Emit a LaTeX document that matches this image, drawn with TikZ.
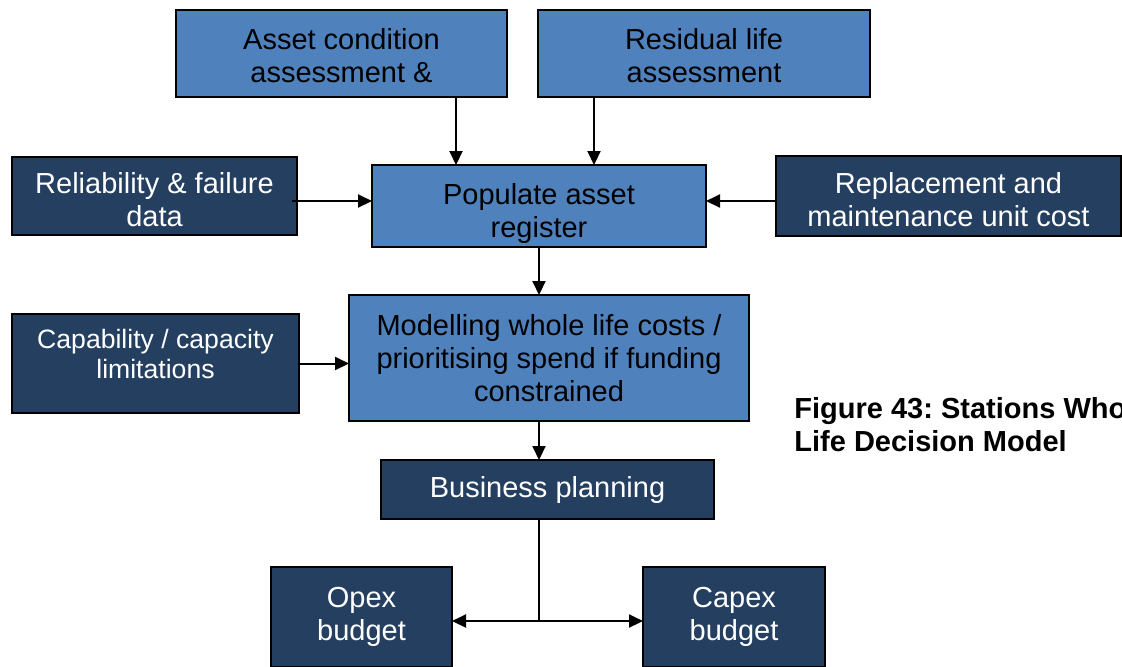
\documentclass[tikz,border=0pt]{standalone}
\usepackage{fontspec}
\setmainfont{Liberation Sans}
\frenchspacing
\usetikzlibrary{arrows.meta, positioning}
\definecolor{wlblue}{RGB}{79,129,189}
\definecolor{wlnavy}{RGB}{36,63,96}
\newcommand{\boxfont}{\fontsize{14.5pt}{16.5pt}\selectfont}
\newcommand{\smallboxfont}{\fontsize{13.3pt}{15pt}\selectfont}

\begin{document}
\begin{tikzpicture}[
  lightbox/.style={rectangle, draw=black, line width=0.75pt, fill=wlblue, text=black, align=center, font=\boxfont, inner sep=0pt, outer sep=0pt},
  darkbox/.style={lightbox, fill=wlnavy, text=white},
  arr/.style={-{Triangle[length=7pt, width=6.5pt]}, line width=1pt},
  figcap/.style={align=left, font=\boxfont\bfseries, inner sep=0pt}
]
\useasboundingbox (0,0) rectangle (561pt,-333pt);
\clip (0,0) rectangle (561pt,-333pt);
% central column
\node[lightbox, minimum width=167pt, minimum height=41pt] (pop) at (269.5pt,-103pt) {\rule{0pt}{18pt}Populate asset\\register};
\node[lightbox, minimum width=200pt, minimum height=63pt, below=24pt of pop, xshift=5pt] (model) {Modelling whole life costs /\\prioritising spend if funding\\constrained};
\node[darkbox, minimum width=166.5pt, minimum height=29.5pt, below=19.5pt of model, xshift=-0.75pt] (bus) {Business planning};
\node[darkbox, minimum width=90.5pt, minimum height=50pt, below=24pt of bus, xshift=-93pt] (opex) {Opex\\budget};
\node[darkbox, minimum width=91pt, minimum height=50pt, below=24pt of bus, xshift=93.25pt] (capex) {Capex\\budget};
% inputs
\node[lightbox, minimum width=165.5pt, minimum height=43.5pt, above=34pt of pop, xshift=-98.75pt] (asset) {\rule{0pt}{13pt}Asset condition\\assessment \&};
\node[lightbox, minimum width=166pt, minimum height=43.5pt, above=34pt of pop, xshift=82.5pt] (resid) {\rule{0pt}{13pt}Residual life\\assessment};
\node[darkbox, minimum width=142.5pt, minimum height=39pt, left=37.5pt of pop, yshift=5pt] (rel) {\rule{0pt}{14pt}Reliability \& failure\\data};
\node[darkbox, minimum width=172.5pt, minimum height=40pt, right=35pt of pop, yshift=5pt] (repl) {\rule{0pt}{14pt}Replacement and\\maintenance unit cost};
\node[darkbox, font=\smallboxfont, minimum width=143.5pt, minimum height=49.5pt, left=25pt of model, yshift=-2.75pt] (cap) {Capability / capacity\\limitations\rule[-10pt]{0pt}{0pt}};
\node[figcap, right=22.5pt of model, yshift=-33.25pt] (fig) {Figure 43: Stations Who\\Life Decision Model};
% connectors
\coordinate (spine) at (pop.south);
\coordinate (relout) at ([xshift=-2.5pt, yshift=-2.5pt]rel.east);
\coordinate (replout) at ([yshift=-2.5pt]repl.west);
\coordinate (assetout) at ([xshift=57.25pt]asset.south);
\coordinate (residout) at ([xshift=-55pt]resid.south);
\draw[arr] (assetout) -- (assetout |- pop.north);
\draw[arr] (residout) -- (residout |- pop.north);
\draw[arr] (relout) -- (relout -| pop.west);
\draw[arr] (replout) -- (replout -| pop.east);
\draw[arr] (spine) -- (spine |- model.north);
\draw[arr] (cap.east) -- (cap.east -| model.west);
\draw[arr] (spine |- model.south) -- (spine |- bus.north);
\path (spine |- opex.center) ++(0,-2pt) coordinate (split);
\draw[line width=1pt] (spine |- bus.south) -- (split);
\draw[arr] (split) -- (split -| opex.east);
\draw[arr] (split) -- (split -| capex.west);
\end{tikzpicture}
\end{document}
